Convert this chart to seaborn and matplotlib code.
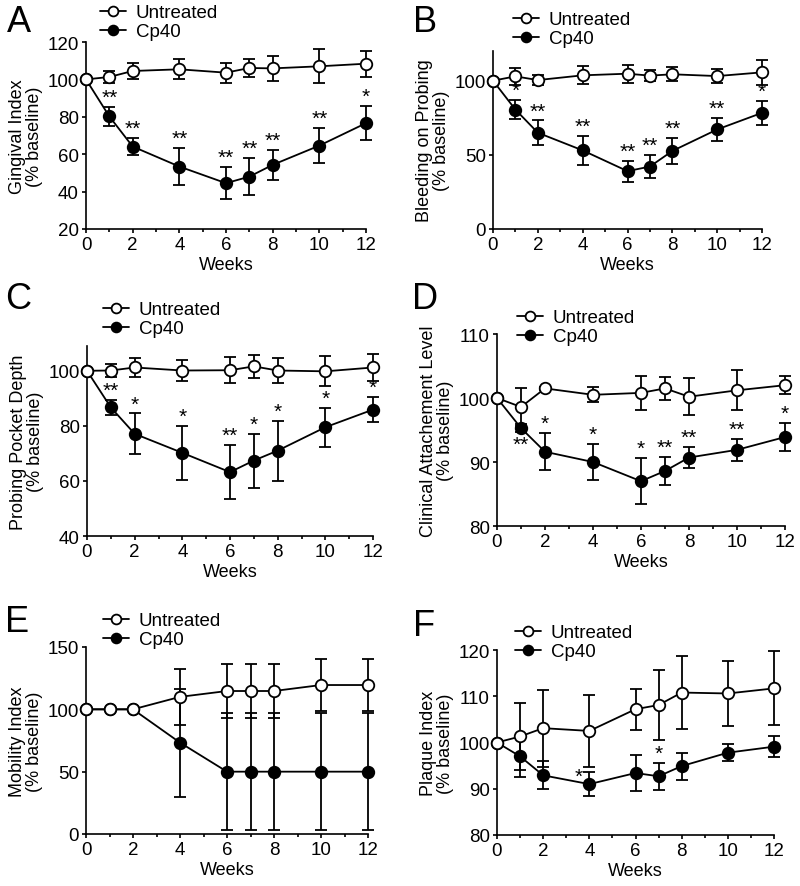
import matplotlib
matplotlib.use('Agg')
import matplotlib.pyplot as plt
from matplotlib.ticker import MultipleLocator
import seaborn as sns

sns.set_style('ticks')
plt.rcParams['font.family'] = ['Liberation Sans', 'DejaVu Sans']
plt.rcParams['text.color'] = 'black'
plt.rcParams['axes.labelcolor'] = 'black'
plt.rcParams['xtick.color'] = 'black'
plt.rcParams['ytick.color'] = 'black'

weeks = [0, 1, 2, 4, 6, 7, 8, 10, 12]

# A - gingival index
gi_untr = [100, 101.3, 104.5, 105.4, 103.6, 106.1, 105.9, 107.0, 108.4]
gi_untr_err = [0, 3.0, 4.4, 5.3, 5.3, 5.0, 6.6, 9.0, 7.0]
gi_cp40 = [100, 80.2, 64.1, 53.4, 44.5, 48.0, 54.3, 64.6, 76.6]
gi_cp40_err = [0, 5.0, 4.5, 9.8, 8.6, 9.8, 8.0, 9.3, 9.0]
gi_stars = ['', '**', '**', '**', '**', '**', '**', '**', '*']

# B - bleeding on probing
bop_untr = [100, 102.9, 100.4, 103.6, 104.7, 103.4, 104.3, 103.1, 105.6]
bop_untr_err = [0, 5.6, 3.6, 6.0, 6.0, 3.6, 4.7, 5.0, 8.5]
bop_cp40 = [100, 80.5, 64.9, 53.0, 39.0, 42.1, 52.6, 67.1, 78.3]
bop_cp40_err = [0, 6.3, 8.3, 9.6, 7.0, 7.8, 9.0, 7.8, 8.3]
bop_stars = ['', '*', '**', '**', '**', '**', '**', '**', '*']

# C - probing pocket depth
ppd_untr = [100, 100.1, 101.2, 100.1, 100.2, 101.6, 100.1, 99.8, 101.2]
ppd_untr_err = [0, 2.5, 3.4, 3.9, 4.7, 4.2, 4.4, 5.4, 5.0]
ppd_cp40 = [100, 86.7, 77.1, 70.2, 63.2, 67.4, 71.0, 79.5, 85.9]
ppd_cp40_err = [0, 2.8, 7.4, 9.7, 9.8, 9.8, 10.9, 7.0, 4.6]
ppd_stars = ['', '**', '*', '*', '**', '*', '*', '*', '*']

# D - clinical attachment level
cal_untr = [100, 98.6, 101.5, 100.5, 100.8, 101.5, 100.2, 101.2, 102.0]
cal_untr_err = [0, 3.0, 0.2, 1.2, 2.6, 1.8, 2.9, 3.1, 1.4]
cal_cp40 = [100, 95.3, 91.6, 90.0, 87.0, 88.6, 90.7, 91.9, 93.9]
cal_cp40_err = [0, 0.6, 2.9, 2.8, 3.6, 2.2, 1.6, 1.7, 2.2]
cal_stars = ['', '**', '*', '*', '*', '**', '**', '**', '*']

# E - mobility index
mob_untr = [100, 100, 100, 110, 114.7, 114.7, 114.7, 119.5, 119.5]
mob_untr_err = [0, 0, 0, 22.3, 22.0, 22.0, 22.0, 20.5, 20.5]
mob_cp40 = [100, 100, 100, 73.3, 50, 50, 50, 50, 50]
mob_cp40_err = [0, 0, 0, 43.4, 46.8, 46.8, 46.8, 46.8, 46.8]
mob_stars = ['', '', '', '', '', '', '', '', '']

# F - plaque index
pli_untr = [100, 101.3, 103.1, 102.5, 107.2, 108.1, 110.8, 110.6, 111.7]
pli_untr_err = [0, 7.2, 8.3, 7.7, 4.4, 7.5, 7.8, 7.1, 8.0]
pli_cp40 = [100, 97.0, 92.9, 91.0, 93.4, 92.7, 94.9, 97.8, 99.1]
pli_cp40_err = [0, 4.4, 3.0, 2.6, 3.9, 2.9, 2.9, 1.8, 2.2]
pli_stars = ['', '', '', '*', '', '*', '', '', '']

W, H = 800, 887
fig = plt.figure(figsize=(W / 100, H / 100), dpi=100)


def px_axes(left, right, top, bottom):
    return fig.add_axes([left / W, 1 - bottom / H, (right - left) / W, (bottom - top) / H])


def panel(ax, untr, untr_err, cp40, cp40_err, stars, ylim, yticks, ylabel,
          leg_xy, star_special=None):
    lw = 1.3
    for vals, errs, z in [(cp40, cp40_err, 2), (untr, untr_err, 4)]:
        eb = ax.errorbar(weeks, vals, yerr=errs, fmt='none', ecolor='black',
                         elinewidth=lw, capsize=4.5, capthick=lw, zorder=z)
        for c in eb.get_children():
            c.set_clip_on(False)
    sns.lineplot(x=weeks, y=cp40, ax=ax, color='black', marker='o', markersize=8.3,
                 markerfacecolor='black', markeredgecolor='black', markeredgewidth=lw,
                 linewidth=lw, label='Cp40', zorder=3)
    sns.lineplot(x=weeks, y=untr, ax=ax, color='black', marker='o', markersize=8.3,
                 markerfacecolor='white', markeredgecolor='black', markeredgewidth=lw,
                 linewidth=lw, label='Untreated', zorder=5)
    for l in ax.lines:
        l.set_clip_on(False)

    # significance marks
    star_special = star_special or {}
    for i, s in enumerate(stars):
        if not s:
            continue
        how = star_special.get(i, 'above')
        if how == 'above':
            ax.annotate(s, (weeks[i], cp40[i] + cp40_err[i]), xytext=(0, 0),
                        textcoords='offset points', ha='center', va='bottom', fontsize=15)
        elif how == 'below':
            ax.annotate(s, (weeks[i], cp40[i]), xytext=(0, -5),
                        textcoords='offset points', ha='center', va='top', fontsize=15)
        elif how == 'left':
            ax.annotate(s, (weeks[i], cp40[i] + cp40_err[i]), xytext=(-8, -3),
                        textcoords='offset points', ha='center', va='center', fontsize=15)

    ax.set_xlim(0, 12)
    ax.set_ylim(*ylim)
    ax.set_xticks(range(0, 13, 2))
    ax.xaxis.set_minor_locator(MultipleLocator(1))
    ax.set_yticks(yticks)
    ax.tick_params(axis='both', which='major', labelsize=13.5, length=3.2, width=1.2, pad=2)
    ax.tick_params(axis='x', which='minor', length=2, width=1.2)
    sns.despine(ax=ax)
    for sp in ['left', 'bottom']:
        ax.spines[sp].set_linewidth(1.2)
        ax.spines[sp].set_color('black')
    ax.set_xlabel('Weeks', fontsize=13, labelpad=2)
    ax.set_ylabel(ylabel, fontsize=13, labelpad=3, linespacing=1.05)

    h, lab = ax.get_legend_handles_labels()
    ax.legend(h[::-1], lab[::-1], loc='upper left',
              bbox_to_anchor=(leg_xy[0] / W, 1 - leg_xy[1] / H),
              bbox_transform=fig.transFigure, frameon=False, fontsize=13.5,
              handlelength=1.4, handletextpad=0.5, borderpad=0, borderaxespad=0,
              labelspacing=0.1, markerscale=0.85)


axA = px_axes(86, 366, 43, 230)
panel(axA, gi_untr, gi_untr_err, gi_cp40, gi_cp40_err, gi_stars, (20, 120),
      [20, 40, 60, 80, 100, 120], 'Gingival Index\n(% baseline)', (100, 5))

axB = px_axes(493, 762, 52, 230)
panel(axB, bop_untr, bop_untr_err, bop_cp40, bop_cp40_err, bop_stars, (0, 120),
      [0, 50, 100], 'Bleeding on Probing\n(% baseline)', (513, 12))

axC = px_axes(87, 373, 347, 537)
panel(axC, ppd_untr, ppd_untr_err, ppd_cp40, ppd_cp40_err, ppd_stars, (40, 109),
      [40, 60, 80, 100], 'Probing Pocket Depth\n(% baseline)', (103, 302))

axD = px_axes(497, 785, 335, 527)
panel(axD, cal_untr, cal_untr_err, cal_cp40, cal_cp40_err, cal_stars, (80, 110),
      [80, 90, 100, 110], 'Clinical Attachement Level\n(% baseline)', (517, 310),
      star_special={1: 'below'})

axE = px_axes(86, 368, 648, 835)
panel(axE, mob_untr, mob_untr_err, mob_cp40, mob_cp40_err, mob_stars, (0, 150),
      [0, 50, 100, 150], 'Mobility Index\n(% baseline)', (103, 613))

axF = px_axes(497, 774, 651, 836)
panel(axF, pli_untr, pli_untr_err, pli_cp40, pli_cp40_err, pli_stars, (80, 120),
      [80, 90, 100, 110, 120], 'Plaque Index\n(% baseline)', (515, 625),
      star_special={3: 'left'})

for letter, x, y in [('A', 7, 5), ('B', 413, 5), ('C', 5, 282), ('D', 412, 282),
                     ('E', 5, 605), ('F', 413, 609)]:
    fig.text(x / W, 1 - y / H, letter, fontsize=26, ha='left', va='top')

fig.savefig('out.png', dpi=100)
